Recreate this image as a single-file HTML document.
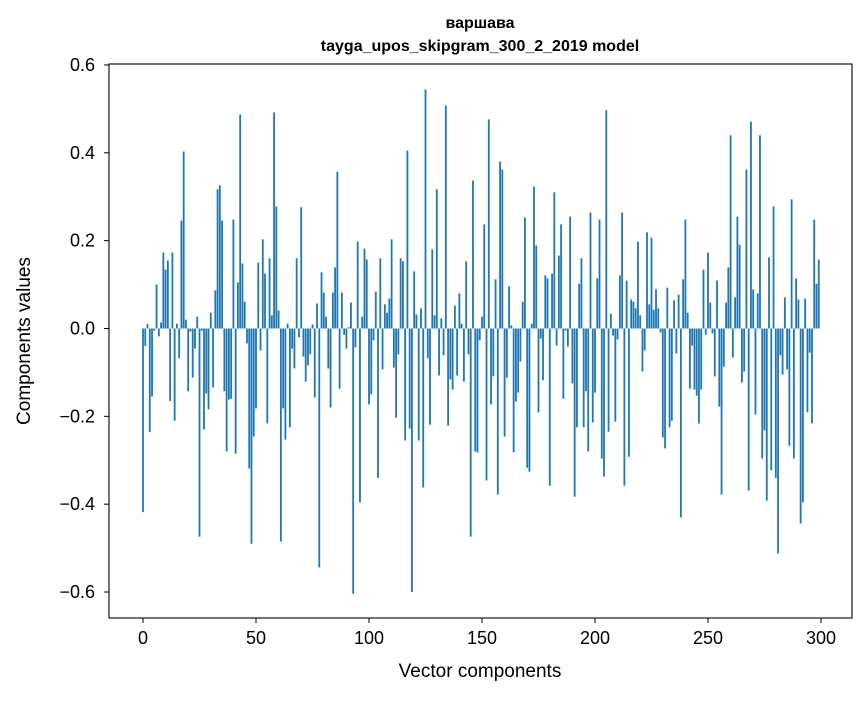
<!DOCTYPE html>
<html><head><meta charset="utf-8"><style>
body{margin:0;background:#fff}
svg text{font-family:"Liberation Sans","DejaVu Sans",sans-serif;fill:#000}
</style></head><body>
<svg id="chart" width="867" height="696" xmlns="http://www.w3.org/2000/svg">
<rect width="867" height="696" fill="#fff"/>
<text x="480" y="28" text-anchor="middle" font-size="16" font-weight="bold">варшава</text>
<text x="480" y="51" text-anchor="middle" font-size="16" font-weight="bold">tayga_upos_skipgram_300_2_2019 model</text>
<g id="bars"></g>
<g id="axes"></g>
<text x="480" y="677" text-anchor="middle" font-size="19">Vector components</text>
<text transform="translate(30,341) rotate(-90)" text-anchor="middle" font-size="19">Components values</text>
</svg>
<script>
const values = [-0.418,-0.04,0.01,-0.236,-0.155,-0.005,0.10,-0.018,0.014,0.173,0.134,0.155,-0.165,0.173,-0.21,0.011,-0.068,0.246,0.403,0.02,
-0.143,-0.007,-0.112,-0.046,0.027,-0.474,-0.005,-0.23,-0.148,-0.184,0.036,-0.134,0.087,0.317,0.326,0.246,-0.143,-0.28,-0.162,-0.16,
0.248,-0.285,0.105,0.487,0.148,0.061,-0.034,-0.319,-0.49,-0.246,-0.182,0.15,-0.05,0.203,0.125,-0.216,0.16,0.03,0.492,0.278,
0.041,-0.485,-0.182,-0.253,0.011,-0.225,-0.046,-0.091,0.16,-0.02,0.276,-0.064,-0.121,-0.084,-0.059,0.009,-0.157,0.057,-0.544,0.128,
0.082,0.027,-0.091,-0.18,0.082,0.139,0.357,-0.137,0.082,-0.014,-0.046,0.003,0.059,-0.604,-0.043,0.198,-0.396,0.027,0.182,0.157,
-0.173,-0.15,-0.027,0.084,-0.34,0.16,-0.093,0.055,0.036,0.068,0.203,-0.089,-0.203,-0.059,0.16,0.153,-0.255,0.405,-0.228,-0.6,
0.13,0.032,-0.255,0.046,-0.362,0.544,-0.068,-0.219,0.18,0.03,0.317,-0.107,0.023,-0.061,0.508,-0.221,-0.116,-0.139,0.052,-0.107,
0.08,0.011,-0.121,0.153,-0.059,-0.474,0.337,-0.28,-0.282,-0.027,0.027,0.237,-0.346,0.476,-0.173,-0.109,0.112,-0.378,0.38,0.362,
-0.246,-0.112,0.096,0.007,-0.282,-0.166,-0.146,-0.075,0.061,0.253,-0.317,-0.326,0.011,0.323,0.189,-0.191,-0.023,-0.118,0.121,0.114,
-0.358,0.125,0.31,-0.039,0.166,0.237,-0.16,-0.005,-0.041,0.255,-0.125,-0.383,-0.225,0.102,0.16,-0.225,-0.143,-0.28,0.264,-0.214,
-0.146,0.114,0.248,-0.296,-0.337,0.497,-0.235,0.034,-0.016,-0.212,-0.025,0.121,0.264,-0.358,0.109,-0.292,0.066,0.061,0.046,0.198,
0.03,-0.098,-0.05,0.219,0.055,0.207,0.043,0.089,0.046,-0.009,-0.248,-0.273,0.093,-0.225,-0.21,0.064,-0.057,0.077,-0.43,0.112,
0.248,0.036,-0.137,-0.039,-0.139,-0.153,-0.216,-0.139,0.134,-0.014,0.173,0.059,-0.011,-0.109,0.109,-0.178,-0.378,-0.087,0.059,0.139,
0.44,-0.066,0.071,0.255,0.191,-0.123,-0.098,0.362,-0.369,0.471,0.089,-0.196,0.08,0.44,-0.296,-0.232,-0.392,0.162,-0.323,0.278,
-0.34,-0.512,-0.061,-0.105,0.071,-0.093,-0.267,0.294,-0.296,0.114,0.066,-0.444,-0.396,0.068,-0.191,-0.055,-0.216,0.248,0.102,0.157];
const xTicks = [0,50,100,150,200,250,300];
const yTicks = [-0.6,-0.4,-0.2,0.0,0.2,0.4,0.6];
const yTickLabels = ["\u22120.6","\u22120.4","\u22120.2","0.0","0.2","0.4","0.6"];

const NS="http://www.w3.org/2000/svg";
const L=109,R=852,T=64,B=618;
const xs=v=>143+v*2.26;
const ys=v=>328.5-v*439.2;
const bars=document.getElementById('bars');
values.forEach((v,i)=>{
  const r=document.createElementNS(NS,'rect');
  
  
  const x=xs(i-0.4), w=xs(i+0.4)-x;
  const y0=ys(Math.max(v,0)), y1=ys(Math.min(v,0));
  r.setAttribute('x',x);r.setAttribute('width',w);
  r.setAttribute('y',y0);r.setAttribute('height',Math.max(y1-y0,0.01));
  r.setAttribute('fill','#1f77b4');
  bars.appendChild(r);
});
const ax=document.getElementById('axes');
const fr=document.createElementNS(NS,'rect');


fr.setAttribute('x',L);fr.setAttribute('y',T);fr.setAttribute('width',R-L);fr.setAttribute('height',B-T);
fr.setAttribute('fill','none');fr.setAttribute('stroke','#000');fr.setAttribute('stroke-width','1.1');
ax.appendChild(fr);
xTicks.forEach(t=>{
  const l=document.createElementNS(NS,'line');
  
  
  l.setAttribute('x1',xs(t));l.setAttribute('x2',xs(t));l.setAttribute('y1',B);l.setAttribute('y2',B+5);
  l.setAttribute('stroke','#000');ax.appendChild(l);
  const tx=document.createElementNS(NS,'text');
  
  
  tx.setAttribute('x',xs(t));tx.setAttribute('y',B+26);tx.setAttribute('text-anchor','middle');tx.setAttribute('font-size','18');
  tx.textContent=t;ax.appendChild(tx);
});
yTicks.forEach((t,i)=>{
  const l=document.createElementNS(NS,'line');
  
  
  l.setAttribute('x1',L-5);l.setAttribute('x2',L);l.setAttribute('y1',ys(t));l.setAttribute('y2',ys(t));
  l.setAttribute('stroke','#000');ax.appendChild(l);
  const tx=document.createElementNS(NS,'text');
  
  
  tx.setAttribute('x',L-14);tx.setAttribute('y',ys(t)+6);tx.setAttribute('text-anchor','end');tx.setAttribute('font-size','18');
  tx.textContent=yTickLabels[i];ax.appendChild(tx);
});
</script>
</body></html>
